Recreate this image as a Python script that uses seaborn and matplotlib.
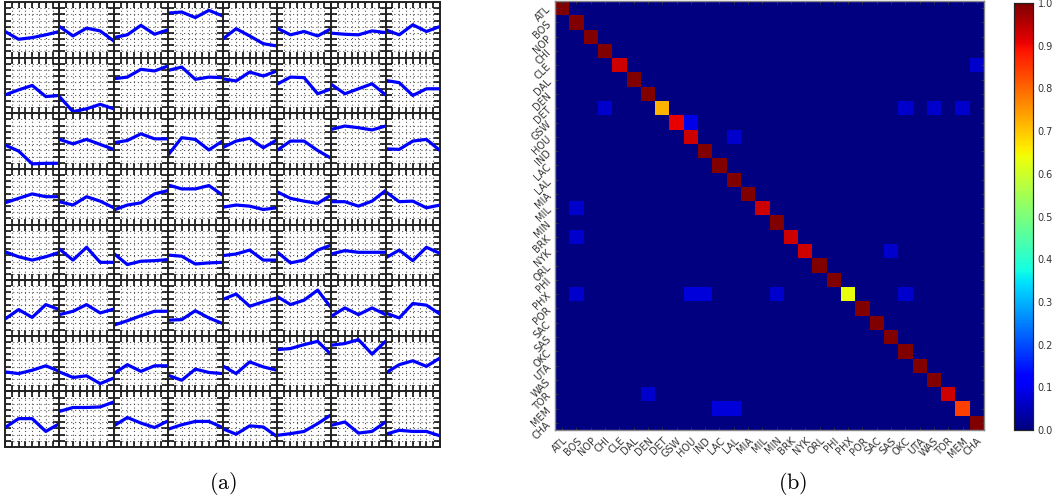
import numpy as np
import pandas as pd
import matplotlib
matplotlib.use("Agg")
import matplotlib.pyplot as plt
import seaborn as sns

plt.rcParams["mathtext.fontset"] = "cm"

# (a) 8x8 kleine Verläufe, je 5 Punkte (0 = unten, 1 = oben)
steps = [0, 1, 2, 3, 4]
curves = [
    # Zeile 0
    [0.47, 0.33, 0.36, 0.41, 0.47], [0.56, 0.39, 0.53, 0.48, 0.30],
    [0.36, 0.41, 0.58, 0.42, 0.50], [0.80, 0.82, 0.72, 0.85, 0.75],
    [0.33, 0.52, 0.39, 0.25, 0.21], [0.53, 0.41, 0.47, 0.39, 0.52],
    [0.44, 0.42, 0.41, 0.48, 0.45], [0.50, 0.41, 0.59, 0.47, 0.56],
    # Zeile 1
    [0.33, 0.42, 0.50, 0.30, 0.32], [0.30, 0.03, 0.08, 0.16, 0.08],
    [0.62, 0.65, 0.79, 0.76, 0.85], [0.77, 0.83, 0.61, 0.65, 0.64],
    [0.62, 0.58, 0.74, 0.67, 0.76], [0.52, 0.65, 0.64, 0.35, 0.44],
    [0.52, 0.35, 0.44, 0.53, 0.33], [0.59, 0.55, 0.32, 0.44, 0.44],
    # Zeile 2
    [0.43, 0.32, 0.09, 0.10, 0.10], [0.53, 0.45, 0.53, 0.44, 0.35],
    [0.47, 0.51, 0.63, 0.54, 0.54], [0.25, 0.56, 0.53, 0.34, 0.50],
    [0.38, 0.50, 0.55, 0.38, 0.52], [0.33, 0.50, 0.50, 0.33, 0.19],
    [0.71, 0.77, 0.74, 0.70, 0.77], [0.36, 0.35, 0.50, 0.53, 0.33],
    # Zeile 3
    [0.39, 0.47, 0.55, 0.50, 0.50], [0.41, 0.35, 0.50, 0.42, 0.30],
    [0.26, 0.35, 0.39, 0.55, 0.61], [0.71, 0.64, 0.64, 0.70, 0.53],
    [0.31, 0.35, 0.33, 0.27, 0.30], [0.59, 0.47, 0.42, 0.38, 0.53],
    [0.41, 0.41, 0.33, 0.42, 0.61], [0.59, 0.41, 0.42, 0.30, 0.35],
    # Zeile 4
    [0.51, 0.42, 0.36, 0.42, 0.50], [0.56, 0.36, 0.59, 0.32, 0.32],
    [0.48, 0.28, 0.34, 0.35, 0.37], [0.45, 0.43, 0.29, 0.31, 0.32],
    [0.44, 0.47, 0.54, 0.36, 0.36], [0.51, 0.31, 0.36, 0.54, 0.63],
    [0.47, 0.53, 0.50, 0.50, 0.50], [0.40, 0.54, 0.35, 0.59, 0.48],
    # Zeile 5
    [0.30, 0.47, 0.33, 0.56, 0.47], [0.38, 0.44, 0.56, 0.41, 0.48],
    [0.19, 0.27, 0.36, 0.44, 0.44], [0.28, 0.29, 0.45, 0.32, 0.22],
    [0.65, 0.75, 0.53, 0.61, 0.68], [0.71, 0.56, 0.64, 0.82, 0.50],
    [0.35, 0.50, 0.38, 0.50, 0.38], [0.41, 0.32, 0.58, 0.55, 0.39],
    # Zeile 6
    [0.35, 0.32, 0.38, 0.46, 0.36], [0.35, 0.25, 0.28, 0.14, 0.24],
    [0.32, 0.48, 0.36, 0.46, 0.46], [0.29, 0.20, 0.40, 0.34, 0.32],
    [0.46, 0.32, 0.53, 0.44, 0.38], [0.75, 0.77, 0.84, 0.90, 0.66],
    [0.83, 0.86, 0.93, 0.67, 0.90], [0.33, 0.48, 0.55, 0.45, 0.60],
    # Zeile 7
    [0.35, 0.51, 0.51, 0.28, 0.42], [0.64, 0.71, 0.71, 0.72, 0.81],
    [0.38, 0.53, 0.43, 0.35, 0.47], [0.32, 0.40, 0.46, 0.46, 0.35],
    [0.33, 0.23, 0.38, 0.36, 0.19], [0.21, 0.24, 0.28, 0.42, 0.58],
    [0.39, 0.45, 0.25, 0.28, 0.45], [0.23, 0.30, 0.28, 0.28, 0.20],
]

# (b) Konfusionsmatrix der Teams
teams = ["ATL", "BOS", "NOP", "CHI", "CLE", "DAL", "DEN", "DET", "GSW", "HOU",
         "IND", "LAC", "LAL", "MIA", "MIL", "MIN", "BRK", "NYK", "ORL", "PHI",
         "PHX", "POR", "SAC", "SAS", "OKC", "UTA", "WAS", "TOR", "MEM", "CHA"]
# (Zeile, Spalte, Wert) neben der Diagonale
off_diag = [
    ("CLE", "CHA", 0.07),
    ("DET", "CHI", 0.07), ("DET", "OKC", 0.07), ("DET", "WAS", 0.07), ("DET", "MEM", 0.07),
    ("GSW", "HOU", 0.09),
    ("HOU", "LAL", 0.07),
    ("MIL", "BOS", 0.07),
    ("BRK", "BOS", 0.07),
    ("NYK", "SAS", 0.07),
    ("PHX", "BOS", 0.07), ("PHX", "HOU", 0.08), ("PHX", "IND", 0.08),
    ("PHX", "MIN", 0.07), ("PHX", "OKC", 0.07),
    ("TOR", "DEN", 0.07),
    ("MEM", "LAC", 0.08), ("MEM", "LAL", 0.08),
]

mat = pd.DataFrame(0.0, index=teams, columns=teams)
for r, c, v in off_diag:
    mat.loc[r, c] = v
for t in teams:
    mat.loc[t, t] = 1.0 - mat.loc[t].sum()

W, H = 1053, 498
fig = plt.figure(figsize=(W / 100, H / 100), dpi=100)

# --- (a) ---
gs = fig.add_gridspec(8, 8, left=5 / W, right=440 / W, top=1 - 2 / H,
                      bottom=1 - 447 / H, wspace=0, hspace=0)
for i, ys in enumerate(curves):
    ax = fig.add_subplot(gs[i // 8, i % 8])
    sns.lineplot(x=steps, y=ys, ax=ax, color="blue", linewidth=2.3)
    ax.set_xlim(0, 4)
    ax.set_ylim(0, 1)
    ax.set_xticks(np.arange(0, 4.01, 0.5))
    ax.set_yticks(np.linspace(0, 1, 10))
    ax.tick_params(direction="in", top=True, right=True, length=4, width=1.1,
                   labelbottom=False, labelleft=False)
    ax.grid(True, linestyle=(0, (1, 2.5)), linewidth=0.8, color="#555555")
    ax.set_xlabel("")
    ax.set_ylabel("")
    for s in ax.spines.values():
        s.set_linewidth(1.4)
        s.set_color("#222222")

# --- (b) ---
ax_b = fig.add_axes([555 / W, 1 - 430 / H, 429 / W, 429 / H])
cax = fig.add_axes([1014 / W, 1 - 430 / H, 19 / W, 427 / H])
sns.heatmap(mat, ax=ax_b, cbar_ax=cax, cmap="jet", vmin=0, vmax=1,
            xticklabels=teams, yticklabels=teams,
            cbar_kws={"ticks": np.linspace(0, 1, 11)})
ax_b.tick_params(direction="in", top=True, right=True, length=2.5, width=0.6,
                 color="#333333", labelsize=7, labelcolor="#333333", pad=4)
ax_b.set_xticklabels(teams, rotation=45, ha="right", rotation_mode="anchor")
ax_b.set_yticklabels(teams, rotation=45, ha="right", rotation_mode="anchor")
ax_b.set_xlabel("")
ax_b.set_ylabel("")
for s in ax_b.spines.values():
    s.set_visible(True)
    s.set_color("#888888")
    s.set_linewidth(1.0)

cax.tick_params(labelsize=7, length=0, labelcolor="#333333")
cax.set_yticklabels([f"{v:.1f}" for v in np.linspace(0, 1, 11)])
for s in cax.spines.values():
    s.set_visible(True)
    s.set_color("#222222")
    s.set_linewidth(0.8)

fig.text(223 / W, 1 - 483 / H, r"$\mathrm{(a)}$", fontsize=16, ha="center", va="center")
fig.text(793 / W, 1 - 483 / H, r"$\mathrm{(b)}$", fontsize=16, ha="center", va="center")

fig.savefig("out.png", dpi=100)
